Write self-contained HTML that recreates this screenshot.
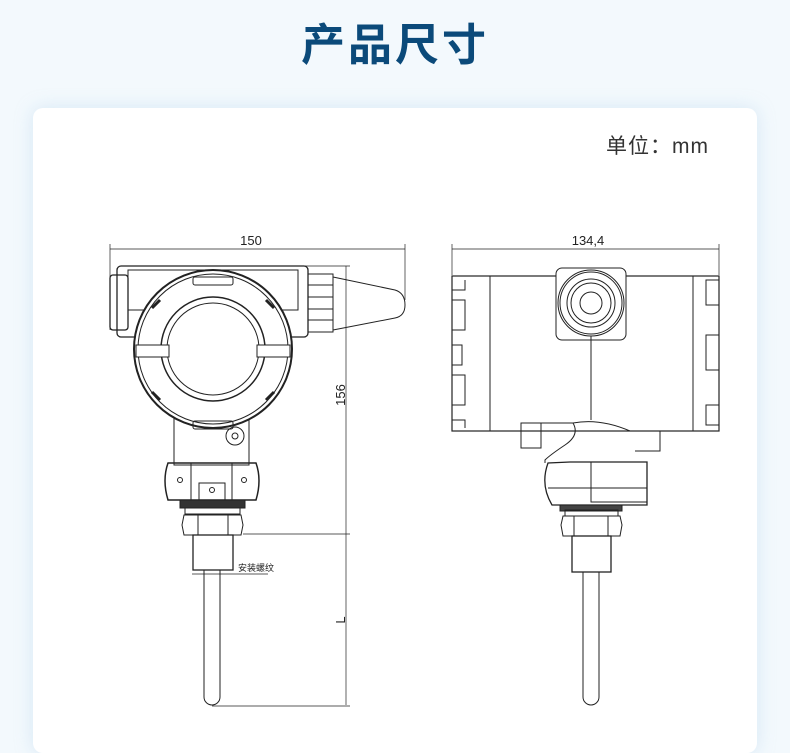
<!DOCTYPE html>
<html><head><meta charset="utf-8"><style>
body{margin:0;width:790px;height:753px;background:#f3f9fd;font-family:"Liberation Sans","Noto Sans CJK SC",sans-serif;position:relative;overflow:hidden}
.t{position:absolute;left:0;width:790px;top:18px;text-align:center;font-size:44px;font-weight:bold;color:#0b4a7a;letter-spacing:3px;line-height:56px}
.card{position:absolute;left:33px;top:108px;width:724px;height:645px;background:#fff;border-radius:10px;box-shadow:0 0 18px rgba(160,200,230,.35)}
.u{position:absolute;left:606px;top:130px;font-size:21px;color:#333;letter-spacing:1px}
svg{position:absolute;left:0;top:0}
</style></head><body>
<div class="t">产品尺寸</div>
<div class="card"></div>
<div class="u">单位：mm</div>
<svg width="790" height="753" fill="none" stroke="#222" stroke-width="1">
<!-- LEFT VIEW -->
<line x1="110" y1="249" x2="405" y2="249" stroke-width="0.7"/>
<line x1="110" y1="244" x2="110" y2="330" stroke-width="0.7"/>
<line x1="405" y1="244" x2="405" y2="300" stroke-width="0.7"/>
<text x="251" y="245" font-size="13" fill="#222" stroke="none" text-anchor="middle" font-family="Liberation Sans">150</text>
<rect x="110" y="275" width="18" height="55" rx="3" stroke-width="1.3"/>
<rect x="117" y="266" width="191" height="71" rx="4" stroke-width="1.3"/>
<rect x="128" y="270" width="170" height="40"/>
<rect x="308" y="274" width="25" height="58"/>
<line x1="308" y1="285" x2="333" y2="285"/><line x1="308" y1="297" x2="333" y2="297"/><line x1="308" y1="309" x2="333" y2="309"/><line x1="308" y1="320" x2="333" y2="320"/>
<path d="M333 277 L395 290 Q405 293 405 305 Q405 316 395 318 L333 330"/>
<rect x="174" y="415" width="75" height="50"/>
<circle cx="213" cy="349" r="79" fill="#fff" stroke-width="2"/>
<circle cx="213" cy="349" r="75"/>
<circle cx="213" cy="349" r="52" stroke-width="1.5"/>
<circle cx="213" cy="349" r="46"/>
<rect x="136" y="345" width="33" height="12" fill="#fff"/><rect x="257" y="345" width="33" height="12" fill="#fff"/>
<rect x="193" y="277" width="40" height="8" rx="2"/><rect x="193" y="421" width="40" height="8" rx="2"/>
<path d="M160 300 l-8 8 M266 300 l8 8 M160 400 l-8 -8 M266 400 l8 -8" stroke-width="3"/>
<circle cx="235" cy="436" r="9"/><circle cx="235" cy="436" r="3"/>
<path d="M168 463 Q162 480 168 500 L256 500 Q262 480 256 463 Z" stroke-width="1.5"/>
<line x1="191" y1="463" x2="191" y2="500"/><line x1="232" y1="463" x2="232" y2="500"/>
<rect x="199" y="483" width="26" height="17"/>
<circle cx="180" cy="480" r="2.5"/><circle cx="244" cy="480" r="2.5"/><circle cx="212" cy="490" r="2.5"/>
<rect x="180" y="500" width="65" height="8" fill="#333"/>
<rect x="185" y="508" width="55" height="6"/>
<path d="M184 515 L241 515 L243 525 L241 535 L184 535 L182 525 Z"/>
<line x1="198" y1="515" x2="198" y2="535"/><line x1="228" y1="515" x2="228" y2="535"/>
<rect x="193" y="535" width="40" height="35" stroke-width="1.3"/>
<path d="M204 570 L204 697 A8 8 0 0 0 220 697 L220 570"/>
<line x1="192" y1="574" x2="268" y2="574" stroke-width="0.7"/>
<text x="238" y="571" font-size="9" fill="#222" stroke="none" font-family="Noto Sans CJK SC">安装螺纹</text>
<line x1="300" y1="266" x2="350" y2="266" stroke-width="0.7"/>
<line x1="346" y1="266" x2="346" y2="705" stroke-width="0.7"/>
<line x1="243" y1="534" x2="350" y2="534" stroke-width="0.7"/>
<line x1="212" y1="706" x2="350" y2="706" stroke-width="0.7"/>
<text transform="translate(345 395) rotate(-90)" font-size="13" fill="#222" stroke="none" text-anchor="middle">156</text>
<text transform="translate(345 620) rotate(-90)" font-size="13" fill="#222" stroke="none" text-anchor="middle">L</text>
<!-- RIGHT VIEW -->
<line x1="452" y1="249" x2="719" y2="249" stroke-width="0.7"/>
<line x1="452" y1="244" x2="452" y2="275" stroke-width="0.7"/>
<line x1="719" y1="244" x2="719" y2="275" stroke-width="0.7"/>
<text x="588" y="245" font-size="13" fill="#222" stroke="none" text-anchor="middle">134,4</text>
<rect x="452" y="276" width="267" height="155" stroke-width="1.2"/>
<line x1="490" y1="276" x2="490" y2="431"/><line x1="693" y1="276" x2="693" y2="431"/>
<path d="M452 290 h13 v-10 M452 300 h13 v30 h-13 M452 345 h10 v20 h-10 M452 375 h13 v30 h-13 M452 420 h13 v8" />
<path d="M719 280 h-13 v25 h13 M719 335 h-13 v35 h13 M719 405 h-13 v20 h13"/>
<rect x="556" y="268" width="70" height="72" rx="6" fill="#fff"/>
<circle cx="591" cy="303" r="33"/><circle cx="591" cy="303" r="31"/><circle cx="591" cy="303" r="24"/><circle cx="591" cy="303" r="20"/><circle cx="591" cy="303" r="11"/>
<line x1="591" y1="336" x2="591" y2="420"/>
<rect x="521" y="423" width="20" height="25"/>
<path d="M521 423 h52 Q580 435 565 445 Q550 455 545 460 L545 463 M630 431 h30 v20 h-25 M573 423 Q600 418 630 431"/>
<path d="M548 463 Q540 485 552 505 L647 505 L647 462 L570 462 Z" stroke-width="1.3"/>
<rect x="591" y="462" width="56" height="40"/>
<line x1="548" y1="488" x2="647" y2="488"/>
<rect x="560" y="505" width="62" height="6" fill="#444"/>
<rect x="565" y="510" width="53" height="6"/>
<path d="M563 516 L620 516 L622 525 L620 536 L563 536 L561 525 Z"/>
<line x1="574" y1="516" x2="574" y2="536"/><line x1="608" y1="516" x2="608" y2="536"/>
<rect x="572" y="536" width="39" height="36" stroke-width="1.3"/>
<path d="M583 572 L583 697 A8 8 0 0 0 599 697 L599 572"/>
</svg>
</body></html>
